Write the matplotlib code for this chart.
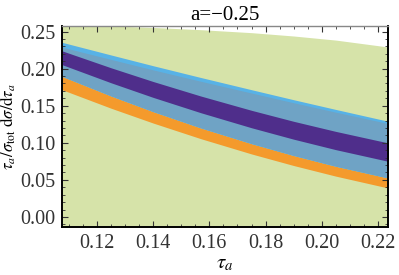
import matplotlib
matplotlib.use("Agg")
import matplotlib.pyplot as plt
from matplotlib.ticker import MultipleLocator, FormatStrFormatter

# ---- data ----
tau = [0.1075, 0.125, 0.14, 0.157, 0.175, 0.19, 0.205, 0.224]

sky_top    = [0.2355, 0.2184, 0.2039, 0.1880, 0.1716, 0.1581, 0.1450, 0.1288]
sky_bot    = [0.2290, 0.2124, 0.1983, 0.1829, 0.1671, 0.1540, 0.1413, 0.1257]
purple_top = [0.2240, 0.2011, 0.1826, 0.1630, 0.1438, 0.1290, 0.1154, 0.0996]
purple_bot = [0.2054, 0.1809, 0.1612, 0.1405, 0.1203, 0.1049, 0.0908, 0.0748]
steel_bot  = [0.1896, 0.1631, 0.1420, 0.1200, 0.0989, 0.0829, 0.0684, 0.0523]
orange_bot = [0.1716, 0.1466, 0.1266, 0.1055, 0.0850, 0.0694, 0.0551, 0.0388]

green_top   = [0.2595, 0.2575, 0.2555, 0.2525, 0.2485, 0.2440, 0.2385, 0.2290]
green_floor = -0.05

GREEN  = "#d6e3a9"
SKY    = "#58b2e6"
STEEL  = "#6fa3c5"
PURPLE = "#4f2e8b"
ORANGE = "#f49a2c"

plt.rcParams["font.family"] = ["Liberation Serif", "DejaVu Serif"]
plt.rcParams["mathtext.fontset"] = "stix"

fig = plt.figure(figsize=(3.99, 2.75), dpi=100)
ax = fig.add_axes([0.1554, 0.1745, 0.817, 0.731])

ax.fill_between(tau, green_floor, green_top, color=GREEN, lw=0)
ax.fill_between(tau, orange_bot, steel_bot, color=ORANGE, lw=0)
ax.fill_between(tau, steel_bot, sky_top, color=SKY, lw=0)
ax.fill_between(tau, steel_bot, sky_bot, color=STEEL, lw=0)
ax.fill_between(tau, purple_bot, purple_top, color=PURPLE, lw=0)

ax.set_xlim(0.1075, 0.2236)
ax.set_ylim(-0.0135, 0.2575)

ax.xaxis.set_major_locator(MultipleLocator(0.02))
ax.xaxis.set_minor_locator(MultipleLocator(0.005))
ax.yaxis.set_major_locator(MultipleLocator(0.05))
ax.yaxis.set_minor_locator(MultipleLocator(0.01))
ax.xaxis.set_major_formatter(FormatStrFormatter("%.2f"))
ax.yaxis.set_major_formatter(FormatStrFormatter("%.2f"))

ax.tick_params(which="both", direction="in", top=True, right=True,
               labelsize=14.5, colors="#333333", pad=5)
ax.tick_params(which="major", length=4, width=0.8)
ax.tick_params(which="minor", length=2, width=0.6)

for side in ["left", "bottom", "right"]:
    ax.spines[side].set_linewidth(1.4)
    ax.spines[side].set_color("black")
ax.spines["top"].set_linewidth(1.0)
ax.spines["top"].set_color("#888888")

ax.set_title("a=\u22120.25", fontsize=15, pad=4)
ax.set_xlabel(r"$\tau_a$", fontsize=15, labelpad=1)
ax.set_ylabel(r"$\tau_a/\sigma_{\rm tot}\ \mathrm{d}\sigma/\mathrm{d}\tau_a$",
              fontsize=12, labelpad=1)

fig.savefig("out.png", dpi=100)
